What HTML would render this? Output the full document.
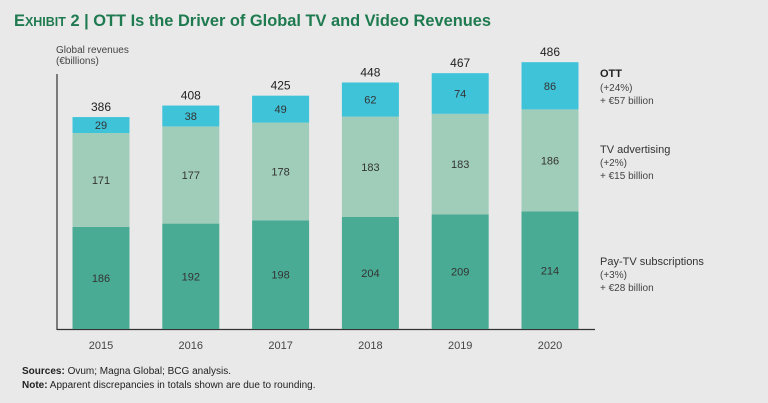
<!DOCTYPE html>
<html><head><meta charset="utf-8"><style>
body{margin:0;background:#e9e9ea;font-family:"Liberation Sans",sans-serif;}
svg{display:block}
</style></head><body>
<svg width="768" height="403">
<rect width="768" height="403" fill="#e9e9ea"/>
<text x="14" y="26" font-size="16.4" font-weight="bold" fill="#1e7a4f">E<tspan font-size="12.5">XHIBIT</tspan> 2 | OTT Is the Driver of Global TV and Video Revenues</text>
<text x="56" y="53" font-size="10" fill="#444">Global revenues</text>
<text x="56" y="64" font-size="10" fill="#444">(€billions)</text>
<line x1="57" y1="74" x2="57" y2="330" stroke="#333" stroke-width="1.2"/>
<line x1="57" y1="329.5" x2="595" y2="329.5" stroke="#333" stroke-width="1.2"/>
<g id="bars"></g>
<g font-size="11" fill="#333">
<text x="600" y="77" font-weight="bold" fill="#222">OTT</text>
<text x="600" y="91" font-size="10" fill="#444">(+24%)</text>
<text x="600" y="104" font-size="10" fill="#444">+ €57 billion</text>
<text x="600" y="153">TV advertising</text>
<text x="600" y="166" font-size="10" fill="#444">(+2%)</text>
<text x="600" y="179" font-size="10" fill="#444">+ €15 billion</text>
<text x="600" y="265">Pay-TV subscriptions</text>
<text x="600" y="278" font-size="10" fill="#444">(+3%)</text>
<text x="600" y="291" font-size="10" fill="#444">+ €28 billion</text>
</g>
<text x="22" y="374" font-size="10" fill="#222"><tspan font-weight="bold">Sources:</tspan> Ovum; Magna Global; BCG analysis.</text>
<text x="22" y="388" font-size="10" fill="#222"><tspan font-weight="bold">Note:</tspan> Apparent discrepancies in totals shown are due to rounding.</text>
</svg>
<script>
const years=["2015","2016","2017","2018","2019","2020"];
const payTv=[186,192,198,204,209,214];
const tvAd=[171,177,178,183,183,186];
const ott=[29,38,49,62,74,86];
const totals=[386,408,425,448,467,486];
const base=329, k=0.549, x0=101, step=89.8, bw=57;
const y=v=>base-v*k;
const xc=i=>x0+i*step;
const ns="http://www.w3.org/2000/svg";
const g=document.getElementById('bars');
function mk(t,a){const e=document.createElementNS(ns,t);for(const n in a)e.setAttribute(n,a[n]);g.appendChild(e);return e;}
const series=[[payTv,"#4aab94","pay-tv"],[tvAd,"#a0cdb9","tv-advertising"],[ott,"#3ec3d9","ott"]];
years.forEach((yr,i)=>{
 let cum=0;
 series.forEach(([arr,col,nm])=>{
  const v=arr[i];
  const r=mk('rect',{x:xc(i)-bw/2,y:y(cum+v),width:bw,height:v*k,fill:col});
  
  
  const t=mk('text',{x:xc(i),y:y(cum+v/2)+4,'text-anchor':'middle','font-size':11,fill:'#333'});
  t.textContent=v;
  
  
  cum+=v;
 });
 const tt=mk('text',{x:xc(i),y:y(cum)-6,'text-anchor':'middle','font-size':12,fill:'#222'});
 tt.textContent=totals[i];
 
 
 const xl=mk('text',{x:xc(i),y:349,'text-anchor':'middle','font-size':11,fill:'#444'});
 xl.textContent=yr;
 
 
});
</script>
</body></html>
